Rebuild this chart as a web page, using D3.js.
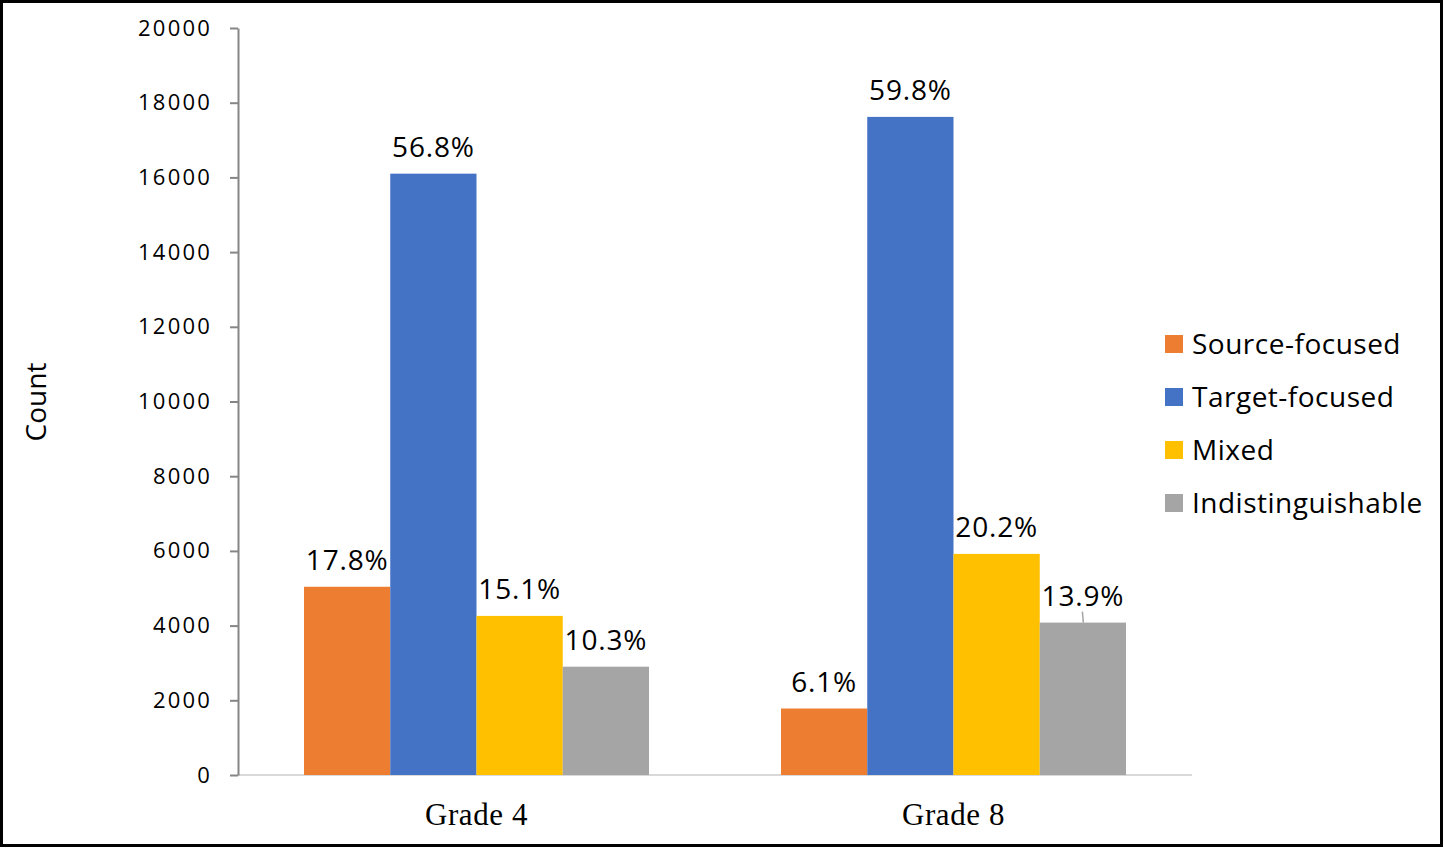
<!DOCTYPE html>
<html>
<head>
<meta charset="utf-8">
<script src="https://cdn.jsdelivr.net/npm/d3@7"></script>
<style>
  body { margin: 0; background: #fff; }
  svg { display: block; }
</style>
</head>
<body>
<div id="chart"></div>
<script>
// data
const grades = ["Grade 4", "Grade 8"];
const seriesNames = ["Source-focused", "Target-focused", "Mixed", "Indistinguishable"];
const seriesColors = ["#ED7D31", "#4472C4", "#FFC000", "#A5A5A5"];
const grade4Counts = [5040, 16100, 4260, 2900];
const grade8Counts = [1780, 17620, 5920, 4080];
const grade4Labels = ["17.8%", "56.8%", "15.1%", "10.3%"];
const grade8Labels = ["6.1%", "59.8%", "20.2%", "13.9%"];
const yTicks = [0, 2000, 4000, 6000, 8000, 10000, 12000, 14000, 16000, 18000, 20000];

const rows = [
    {grade: grades[0], counts: grade4Counts, labels: grade4Labels},
    {grade: grades[1], counts: grade8Counts, labels: grade8Labels}
];

const width = 1444, height = 848;
const margin = {top: 28, right: 252, bottom: 73, left: 238};
const sans = "'Open Sans', 'Noto Sans', sans-serif";

const svg = d3.select("#chart")
    .append("svg")
    .attr("width", width)
    .attr("height", height);

// outer frame
svg.append("rect")
    .attr("x", 1.5).attr("y", 1.5)
    .attr("width", width - 4).attr("height", height - 4)
    .attr("fill", "none")
    .attr("stroke", "#000")
    .attr("stroke-width", 3);

const x0 = d3.scaleBand()
    .domain(grades)
    .range([margin.left, width - margin.right]);

const x1 = d3.scaleBand()
    .domain(seriesNames)
    .range([66, x0.bandwidth() - 66]);

const y = d3.scaleLinear()
    .domain([0, 20000])
    .range([height - margin.bottom, margin.top]);

// x axis line
svg.append("line")
    .attr("x1", margin.left).attr("x2", width - margin.right)
    .attr("y1", y(0)).attr("y2", y(0))
    .attr("stroke", "#D9D9D9")
    .attr("stroke-width", 2);

// bars
const groups = svg.selectAll("g.grade")
    .data(rows)
    .enter().append("g")
    .attr("class", "grade")
    .attr("transform", d => `translate(${x0(d.grade)},0)`);

groups.selectAll("rect")
    .data(d => d.counts.map((v, i) => ({name: seriesNames[i], value: v, label: d.labels[i], color: seriesColors[i]})))
    .enter().append("rect")
    .attr("x", d => x1(d.name))
    .attr("y", d => y(d.value))
    .attr("width", x1.bandwidth())
    .attr("height", d => y(0) - y(d.value))
    .attr("fill", d => d.color);

groups.selectAll("text.lbl")
    .data(d => d.counts.map((v, i) => ({name: seriesNames[i], value: v, label: d.labels[i]})))
    .enter().append("text")
    .attr("class", "lbl")
    .attr("x", d => x1(d.name) + x1.bandwidth() / 2)
    .attr("y", d => y(d.value) - 17)
    .attr("text-anchor", "middle")
    .style("font-family", sans)
    .style("font-size", "28px")
    .style("letter-spacing", "0.8px")
    .style("fill", "#000")
    .text(d => d.label);

// small leader line under the last Grade 8 label
svg.append("line")
    .attr("x1", x0(grades[1]) + x1(seriesNames[3]) + x1.bandwidth() / 2 - 0.5)
    .attr("x2", x0(grades[1]) + x1(seriesNames[3]) + x1.bandwidth() / 2 + 0.5)
    .attr("y1", y(grade8Counts[3]) - 11)
    .attr("y2", y(grade8Counts[3]))
    .attr("stroke", "#A5A5A5")
    .attr("stroke-width", 1.5);

// y axis
const yAxis = svg.append("g")
    .attr("transform", `translate(${margin.left},0)`)
    .call(d3.axisLeft(y).tickValues(yTicks).tickFormat(d3.format("d"))
        .tickSize(8).tickPadding(18).tickSizeOuter(0));
yAxis.select(".domain").attr("stroke", "#868686").attr("stroke-width", 2);
yAxis.selectAll(".tick line").attr("stroke", "#868686").attr("stroke-width", 2);
yAxis.selectAll("text")
    .style("font-family", sans)
    .style("font-size", "22px")
    .style("letter-spacing", "2.2px")
    .style("fill", "#000");

// category labels
svg.selectAll("text.cat")
    .data(grades)
    .enter().append("text")
    .attr("class", "cat")
    .attr("x", d => x0(d) + x0.bandwidth() / 2)
    .attr("y", y(0) + 50)
    .attr("text-anchor", "middle")
    .style("font-family", "'Liberation Serif', 'Times New Roman', serif")
    .style("font-size", "31px")
    .style("letter-spacing", "0.6px")
    .style("fill", "#000")
    .text(d => d);

// y axis title
svg.append("text")
    .attr("transform", "rotate(-90)")
    .attr("x", -402)
    .attr("y", 46)
    .attr("text-anchor", "middle")
    .style("font-family", sans)
    .style("font-size", "28px")
    .text("Count");

// legend
const legend = svg.selectAll("g.legend")
    .data(seriesNames)
    .enter().append("g")
    .attr("class", "legend")
    .attr("transform", (d, i) => `translate(1165,${335 + i * 53})`);

legend.append("rect")
    .attr("width", 18).attr("height", 18)
    .attr("fill", (d, i) => seriesColors[i]);

legend.append("text")
    .attr("x", 27)
    .attr("y", 9)
    .attr("dy", "0.36em")
    .style("font-family", sans)
    .style("font-size", "28px")
    .style("letter-spacing", "0.5px")
    .style("fill", "#000")
    .text(d => d);
</script>
</body>
</html>
